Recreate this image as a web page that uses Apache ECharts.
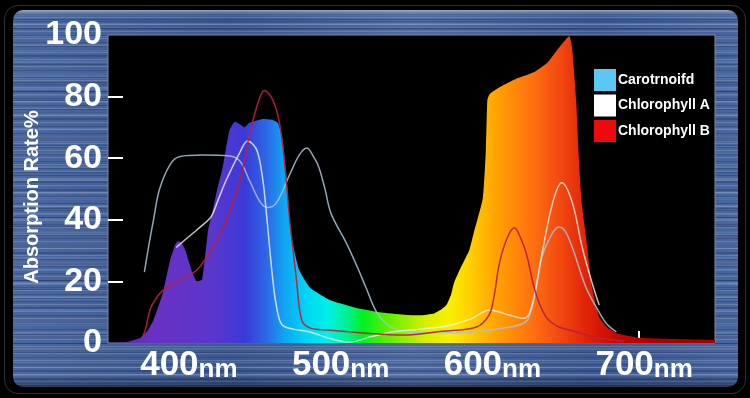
<!DOCTYPE html>
<html>
<head>
<meta charset="utf-8">
<script src="https://cdn.jsdelivr.net/npm/echarts@6/dist/echarts.min.js"></script>
<style>
html,body{margin:0;padding:0;background:#000;width:750px;height:398px;overflow:hidden}
#frame{position:absolute;left:4px;top:5px;width:740px;height:387px;border:1px solid #303030;border-radius:14px;}
#panel{position:absolute;left:13px;top:10px;width:725px;height:377px;border-radius:10px;
background:
 linear-gradient(180deg, rgba(255,255,255,0.28) 0px, rgba(255,255,255,0) 7px, rgba(0,0,0,0) 366px, rgba(0,0,0,0.4) 377px),
 repeating-linear-gradient(180deg, rgba(255,255,255,0.16) 0 1px, rgba(255,255,255,0) 1px 4px, rgba(0,0,20,0.18) 4px 5px, rgba(0,0,0,0) 5px 7px),
 repeating-linear-gradient(180deg, rgba(200,220,255,0.13) 0 2px, rgba(0,0,0,0) 2px 13px),
 repeating-linear-gradient(180deg, rgba(0,10,40,0.22) 0 1px, rgba(0,0,0,0) 1px 9px),
 repeating-linear-gradient(180deg, rgba(230,240,255,0.10) 0 1px, rgba(0,0,0,0) 1px 17px),
 linear-gradient(90deg, rgba(255,255,255,0.06), rgba(0,0,0,0.06) 30%, rgba(255,255,255,0.08) 55%, rgba(0,0,0,0.05) 80%, rgba(255,255,255,0.05)),
 #3f5f99;
}
#chart{position:absolute;left:0;top:0;width:750px;height:398px}
</style>
</head>
<body>
<div id="frame"></div>
<div id="panel"></div>
<div id="chart"></div>
<script>
// ---- data ----
const xTickValues = [400, 500, 600, 700];
const yTickLabels = [0, 20, 40, 60, 80, 100];
const yTickMarks = [20, 40, 60, 80];
const seriesNames = ['Carotrnoifd', 'Chlorophyll A', 'Chlorophyll B'];
const yAxisTitle = 'Absorption Rate%';

// overall absorption spectrum (filled rainbow area): [wavelength nm, %]
const spectrum = [[350,0],[362,0.3],[371,1.6],[376,4],[380,7.5],[386,16],[391,27],[394,31.5],[396,33],[398.5,32.5],[401,30],[405,23.7],[408.5,20],[412,20.5],[416,36.7],[419,43],[422,50],[425.6,57],[430,69],[433.6,71.8],[437,71],[440,70],[443,71.4],[448,72.2],[452,72.7],[458.5,72.4],[462,71.4],[465,66],[467.8,53],[469.7,40],[471.7,32.5],[476,23.7],[483,18],[496,14],[514,11.4],[529,10],[545,9.2],[555,9],[565,9.6],[570,11],[573,12.3],[576,15.6],[578,19.5],[582,24],[588,30],[591,35.7],[597,47],[599,62.7],[600,79],[601.5,80.8],[608,83],[620,86],[631,88],[639.5,91],[647,95.8],[654,99.7],[656,95],[658.5,79],[660,62.7],[662,46.4],[665,34.4],[669,18],[673.7,8.4],[679,5],[685,3.2],[702,1.6],[750,1]];

const carotenoid = [[374,23],[377,32],[380,40],[384,50],[391,58],[397,60.5],[412,61],[430,60.7],[437,59],[443,53],[450,46],[455,44],[461,45.5],[470,55],[476,61],[481,63.3],[486,60],[489,57],[493,50],[497,42],[507,32.5],[514,25],[520,18],[527,10],[534,6],[541,4.2],[549,3.6],[565,3.4],[580,3.3],[595,3.8],[610,4.8],[622,6],[627,8],[631,15],[636,28],[641,34],[647,37.7],[651,36.5],[656,31],[665,18],[674,9.7],[679,6],[685,3.6]];

const chlorophyllA = [[395,31],[402,34],[408.5,36.7],[414,39],[418,41],[423,47],[428,53],[437,62],[442,65.6],[448,62.7],[452,53],[454.6,41],[458.5,21],[461,12],[464.5,6],[472,4.5],[483,3.6],[496,1.5],[509,0.3],[523,2],[537,3.6],[555,4.5],[573,5.5],[590,8],[597,10],[601,10.7],[606,10.3],[615,9],[624,8],[628,10],[632,18],[636,29],[643,45.5],[649,52],[656,45.5],[662.5,31],[669,19.5],[673.7,12.3]];

const chlorophyllB = [[373,2],[375,5],[377.6,10.7],[381,14],[386,17],[397,20.5],[408.5,23.7],[419,31],[428,40],[437,53],[443,67],[448,76.6],[453,82],[458.5,79],[463,71.4],[466.4,58.4],[469.7,40],[472,30],[474,21.4],[477.6,7.5],[483,4.9],[494,4.2],[520,3.2],[544,2.6],[570,3.8],[592.8,5.2],[601,9],[604,14],[608,26],[613,34],[617.8,37.4],[622,34],[625.7,29],[632,16],[638.8,8.4],[646,5.5],[654,4.2],[673.7,1.6],[690,0.6]];

// ---- chart ----
const XMIN = 350, XMAX = 750;
const rainbowStops = [
  [350,'#5a2aa8'],[380,'#6a30c4'],[420,'#5a36cc'],[440,'#3a3ad8'],[455,'#2c6ae6'],[465,'#12a0f2'],
  [480,'#00d4f4'],[495,'#00f0e8'],[508,'#00f090'],[518,'#00f020'],[535,'#60f000'],[560,'#d8f000'],
  [575,'#f8f000'],[590,'#ffcc00'],[605,'#ffa400'],[630,'#ff7010'],[650,'#f04410'],[665,'#e02408'],
  [685,'#c80800'],[710,'#b00000'],[750,'#a00000']
].map(s => ({offset: (s[0]-XMIN)/(XMAX-XMIN), color: s[1]}));

const chart = echarts.init(document.getElementById('chart'), null, {renderer: 'canvas'});
const FONT = 'Liberation Sans, Arial, sans-serif';

const option = {
  backgroundColor: 'transparent',
  animation: false,
  grid: {left: 108, right: 35, top: 35, bottom: 55, show: true, backgroundColor: '#000', borderColor: '#7d8ca6', borderWidth: 1},
  legend: {
    orient: 'vertical', left: 594, top: 69, padding: 0, itemWidth: 22, itemHeight: 22, itemGap: 3.5,
    icon: 'rect',
    textStyle: {color: '#fff', fontSize: 14, fontWeight: 'bold', fontFamily: FONT, padding: [0,0,0,-3]},
    data: [
      {name: seriesNames[0], itemStyle: {color: '#5ac8f2', borderWidth: 0}},
      {name: seriesNames[1], itemStyle: {color: '#ffffff', borderWidth: 0}},
      {name: seriesNames[2], itemStyle: {color: '#ee0a0a', borderWidth: 0}}
    ]
  },
  xAxis: {
    type: 'value', min: XMIN, max: XMAX,
    axisLine: {show: false},
    splitLine: {show: false},
    axisTick: {show: true, inside: true, length: 12, customValues: xTickValues, lineStyle: {color: '#fff', width: 2}},
    axisLabel: {
      customValues: xTickValues, margin: 6, padding: [0,0,0,10],
      formatter: v => '{a|' + v + '}{b|nm}',
      rich: {
        a: {color: '#fff', fontSize: 35, fontWeight: 'bold', fontFamily: FONT, verticalAlign: 'bottom', lineHeight: 34},
        b: {color: '#fff', fontSize: 26, fontWeight: 'bold', fontFamily: FONT, verticalAlign: 'bottom', lineHeight: 34}
      }
    }
  },
  yAxis: {
    type: 'value', min: 0, max: 100,
    name: yAxisTitle, nameLocation: 'middle', nameGap: 66, nameRotate: 90, nameMoveOverlap: false,
    nameTextStyle: {color: '#fff', fontSize: 20, fontWeight: 'bold', fontFamily: FONT, padding: [0,16,0,0]},
    axisLine: {show: false},
    splitLine: {show: false},
    axisTick: {show: true, inside: true, length: 15, customValues: yTickMarks, lineStyle: {color: '#fff', width: 2}},
    axisLabel: {customValues: yTickLabels, margin: 6, color: '#fff', fontSize: 34, fontWeight: 'bold', fontFamily: FONT}
  },
  series: [
    {
      name: 'spectrum', type: 'line', data: spectrum, smooth: 0.15, showSymbol: false, silent: true,
      lineStyle: {width: 0, opacity: 0},
      areaStyle: {opacity: 1, color: new echarts.graphic.LinearGradient(0, 0, 1, 0, rainbowStops)},
      z: 1
    },
    {
      name: seriesNames[0], type: 'line', data: carotenoid, smooth: 0.35, showSymbol: false,
      itemStyle: {color: '#5ac8f2'},
      lineStyle: {color: '#a9c2d6', width: 1.5, opacity: 0.85}, z: 3
    },
    {
      name: seriesNames[1], type: 'line', data: chlorophyllA, smooth: 0.35, showSymbol: false,
      itemStyle: {color: '#ffffff'},
      lineStyle: {color: '#f2f2f2', width: 1.5, opacity: 0.8}, z: 3
    },
    {
      name: seriesNames[2], type: 'line', data: chlorophyllB, smooth: 0.35, showSymbol: false,
      itemStyle: {color: '#ee0a0a'},
      lineStyle: {color: '#b8203c', width: 1.5, opacity: 0.95}, z: 3
    }
  ]
};
chart.setOption(option);
</script>
</body>
</html>
